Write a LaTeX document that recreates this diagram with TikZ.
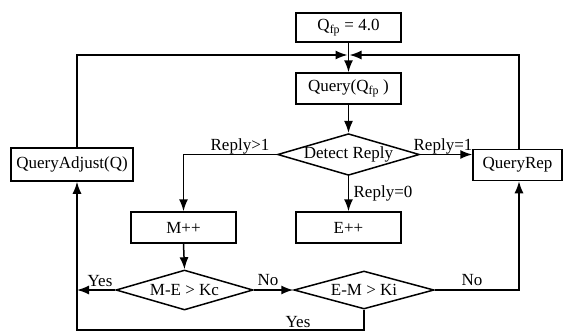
\documentclass[tikz,border=0pt]{standalone}
\usepackage{fontspec}
\setmainfont{Liberation Serif}
\usetikzlibrary{shapes.geometric,arrows.meta}
\begin{document}
\begin{tikzpicture}[x=1pt,y=1pt,
  every node/.style={font=\fontsize{17}{19}\selectfont},
  box/.style={draw,line width=1.5pt,rectangle,inner sep=0pt,minimum height=31pt},
  dia/.style={draw,line width=1.5pt,diamond,inner sep=0pt},
  arr/.style={line width=1.5pt,-{Latex[length=12pt,width=9pt]}},
  lbl/.style={inner sep=1pt}]
\useasboundingbox (0,0) rectangle (565,-333);
% nodes
\node[box,minimum width=105pt,minimum height=29pt] (qfp) at (348.5,-27.5) {Q\textsubscript{fp} = 4.0};
\node[box,minimum width=105pt] (query) at (348.5,-88.5) {Query(Q\textsubscript{fp} )};
\node[dia,minimum width=141pt,minimum height=41pt,aspect=3.4] (detect) at (348.5,-154.5) {Detect Reply};
\node[box,minimum width=122pt,minimum height=33pt] (qadj) at (72,-164.5) {QueryAdjust(Q)};
\node[box,minimum width=89pt,minimum height=31pt] (qrep) at (517.5,-165) {QueryRep};
\node[box,minimum width=105pt] (mpp) at (183.5,-227.5) {M++};
\node[box,minimum width=105pt] (epp) at (348.5,-227.5) {E++};
\node[dia,minimum width=137pt,minimum height=40pt,aspect=3.4] (mek) at (184.5,-290) {M-E > Kc};
\node[dia,minimum width=140pt,minimum height=38pt,aspect=3.6] (emk) at (364,-290) {E-M > Ki};
% coordinates
\coordinate (merge) at (348.5,-55);
\coordinate (lx) at (77,0);
\coordinate (rx) at (519,0);
\coordinate (bot) at (364,-330);
% connectors
\draw[arr] (qfp.south) -- (query.north);
\draw[arr] (qadj.north -| lx) |- ([xshift=-1pt]merge);
\draw[arr] (qrep.north -| rx) |- ([xshift=1pt]merge);
\draw[arr] (query.south) -- (detect.north);
\draw[arr] (detect.west) -| (mpp.north);
\draw[arr] (detect.east) -- (detect.east -| qrep.west);
\draw[arr] (detect.south) -- (epp.north);
\draw[arr] (mpp.south) -- (mek.north);
\draw[arr] (mek.west) -- (mek.west -| lx);
\draw[arr] (mek.east) -- (emk.west);
\draw[arr] (emk.east) -| (qrep.south -| rx);
\draw[arr] (emk.south) -- (bot) -| (qadj.south -| lx);
% labels
\node[lbl] (l1) at (240,-146) {Reply>1};
\node[lbl] (l2) at (443,-146) {Reply=1};
\node[lbl] (l3) at (383,-193) {Reply=0};
\node[lbl] (l4) at (100,-281) {Yes};
\node[lbl] (l5) at (268,-280) {No};
\node[lbl] (l6) at (472,-280) {No};
\node[lbl] (l7) at (298,-322) {Yes};
\end{tikzpicture}
\end{document}
